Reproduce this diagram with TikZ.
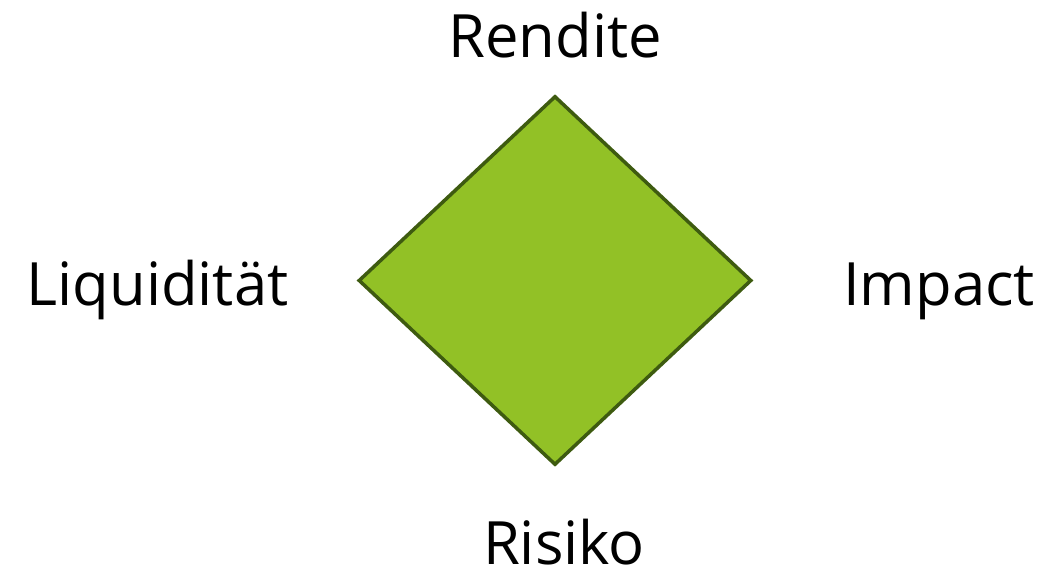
\documentclass[tikz,border=0pt]{standalone}
\usepackage{fontspec}
\setmainfont{Open Sans}
\usetikzlibrary{positioning,shapes.geometric}
\definecolor{leafgreen}{HTML}{92C126}
\definecolor{darkgreen}{HTML}{3E5B10}
\begin{document}
\begin{tikzpicture}[
  feld/.style={diamond,draw=darkgreen,fill=leafgreen,line width=2pt,
    minimum width=7.86cm,minimum height=7.38cm,inner sep=0pt},
  ziel/.style={anchor=base,inner sep=0pt,text=black,
    font=\fontsize{34}{40}\selectfont}]
\useasboundingbox (0,0) rectangle (20.96,11.54);
\node[feld] (dreieck) at (11.10,5.93) {};
\node[ziel] (rendite) at (11.10,10.38) {Rendite};
\node[ziel] (liquid) at (3.15,5.44) {Liquidität};
\node[ziel] (impact) at (18.78,5.44) {Impact};
\node[ziel] (risiko) at (11.28,0.26) {Risiko};
\end{tikzpicture}
\end{document}
